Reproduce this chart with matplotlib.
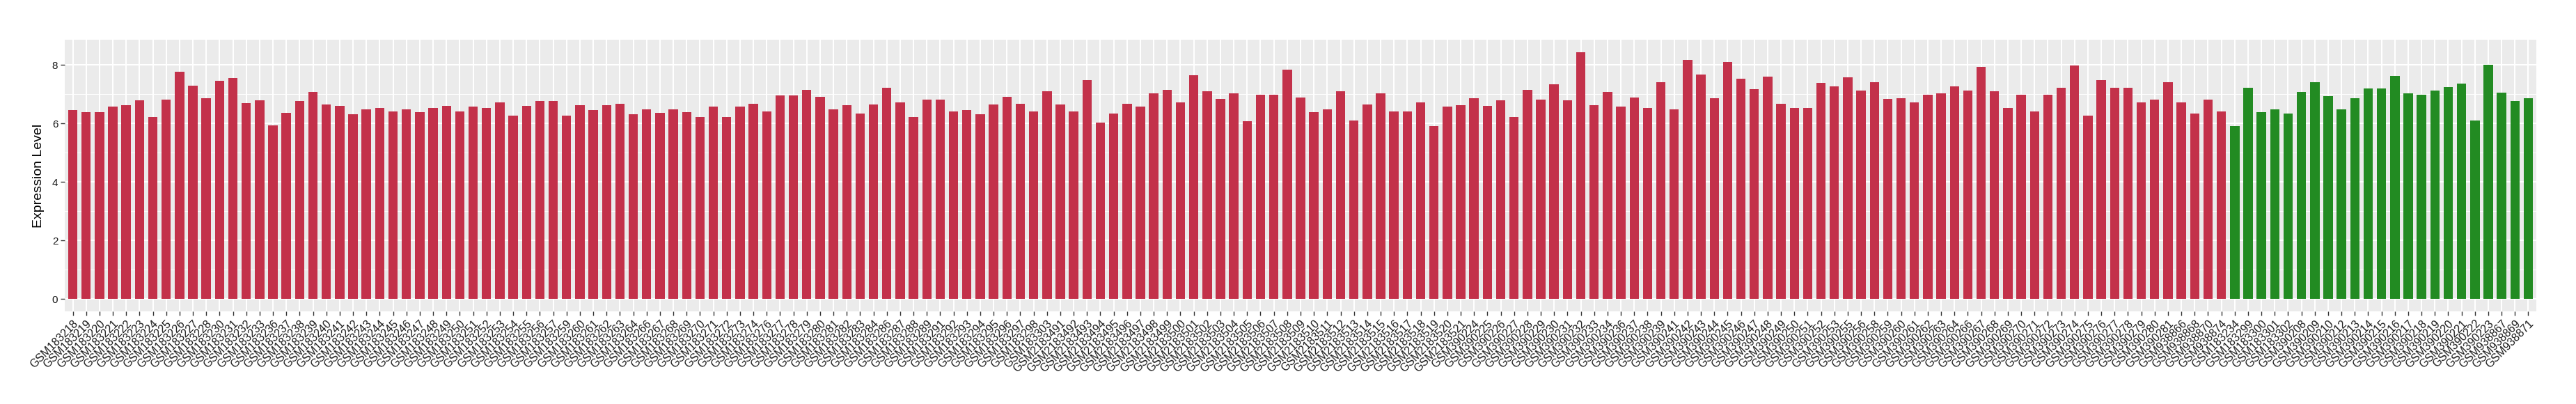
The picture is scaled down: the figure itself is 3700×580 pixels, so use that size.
import matplotlib
matplotlib.use("Agg")
import matplotlib.pyplot as plt
from matplotlib.ticker import MultipleLocator
import numpy as np

# ---- data ----
red_samples = [
    "GSM183218", "GSM183219", "GSM183220", "GSM183221", "GSM183222", "GSM183223", "GSM183224",
    "GSM183225", "GSM183226", "GSM183227", "GSM183228", "GSM183230", "GSM183231", "GSM183232",
    "GSM183233", "GSM183236", "GSM183237", "GSM183238", "GSM183239", "GSM183240", "GSM183241",
    "GSM183242", "GSM183243", "GSM183244", "GSM183245", "GSM183246", "GSM183247", "GSM183248",
    "GSM183249", "GSM183250", "GSM183251", "GSM183252", "GSM183253", "GSM183254", "GSM183255",
    "GSM183256", "GSM183257", "GSM183259", "GSM183260", "GSM183261", "GSM183262", "GSM183263",
    "GSM183264", "GSM183266", "GSM183267", "GSM183268", "GSM183269", "GSM183270", "GSM183271",
    "GSM183272", "GSM183273", "GSM183274", "GSM183276", "GSM183277", "GSM183278", "GSM183279",
    "GSM183280", "GSM183281", "GSM183282", "GSM183283", "GSM183284", "GSM183286", "GSM183287",
    "GSM183288", "GSM183289", "GSM183291", "GSM183292", "GSM183293", "GSM183294", "GSM183295",
    "GSM183296", "GSM183297", "GSM183298", "GSM183303",
    "GSM2183491", "GSM2183492", "GSM2183493", "GSM2183494", "GSM2183495", "GSM2183496",
    "GSM2183497", "GSM2183498", "GSM2183499", "GSM2183500", "GSM2183501", "GSM2183502",
    "GSM2183503", "GSM2183504", "GSM2183505", "GSM2183506", "GSM2183507", "GSM2183508",
    "GSM2183509", "GSM2183510", "GSM2183511", "GSM2183512", "GSM2183513", "GSM2183514",
    "GSM2183515", "GSM2183516", "GSM2183517", "GSM2183518", "GSM2183519", "GSM2183520",
    "GSM2183521",
    "GSM390224", "GSM390225", "GSM390226", "GSM390227", "GSM390228", "GSM390229", "GSM390230",
    "GSM390231", "GSM390232", "GSM390233", "GSM390234", "GSM390236", "GSM390237", "GSM390238",
    "GSM390239", "GSM390241", "GSM390242", "GSM390243", "GSM390244", "GSM390245", "GSM390246",
    "GSM390247", "GSM390248", "GSM390249", "GSM390250", "GSM390251", "GSM390252", "GSM390253",
    "GSM390255", "GSM390256", "GSM390258", "GSM390259", "GSM390260", "GSM390261", "GSM390262",
    "GSM390263", "GSM390264", "GSM390266", "GSM390267", "GSM390268", "GSM390269", "GSM390270",
    "GSM390271", "GSM390272", "GSM390273", "GSM390274", "GSM390275", "GSM390276", "GSM390277",
    "GSM390278", "GSM390279", "GSM390280", "GSM390281",
    "GSM938866", "GSM938868", "GSM938870", "GSM938874",
]
red_values = [
    6.46, 6.39, 6.39, 6.57, 6.63, 6.79, 6.22, 6.81, 7.77, 7.29, 6.86, 7.45, 7.55, 6.70,
    6.79, 5.93, 6.36, 6.76, 7.07, 6.64, 6.59, 6.31, 6.47, 6.52, 6.40, 6.47, 6.38, 6.52,
    6.59, 6.42, 6.57, 6.54, 6.71, 6.26, 6.59, 6.76, 6.76, 6.26, 6.62, 6.45, 6.62, 6.68,
    6.31, 6.47, 6.36, 6.47, 6.38, 6.21, 6.57, 6.23, 6.57, 6.68, 6.42, 6.95, 6.95, 7.14,
    6.90, 6.47, 6.62, 6.33, 6.66, 7.21, 6.71, 6.23, 6.81, 6.81, 6.42, 6.45, 6.31, 6.66,
    6.92, 6.68, 6.42, 7.09,
    6.66, 6.42, 7.49, 6.04, 6.33, 6.68, 6.57, 7.02, 7.14, 6.71, 7.64, 7.09, 6.83, 7.04,
    6.07, 6.97, 6.97, 7.85, 6.88, 6.38, 6.49, 7.09, 6.09, 6.64, 7.02, 6.40, 6.40, 6.71,
    5.92, 6.57, 6.62,
    6.86, 6.59, 6.78, 6.23, 7.14, 6.81, 7.33, 6.78, 8.44, 6.62, 7.07, 6.57, 6.88, 6.52,
    7.42, 6.47, 8.18, 7.66, 6.86, 8.09, 7.54, 7.16, 7.59, 6.68, 6.54, 6.52, 7.38, 7.26,
    7.57, 7.12, 7.40, 6.83, 6.86, 6.73, 6.99, 7.04, 7.26, 7.12, 7.94, 7.09, 6.54, 6.97,
    6.42, 6.99, 7.21, 7.97, 6.26, 7.47, 7.21, 7.21, 6.73, 6.81, 7.40,
    6.71, 6.33, 6.81, 6.40,
]
green_samples = [
    "GSM183234", "GSM183299", "GSM183300", "GSM183301", "GSM183302",
    "GSM390208", "GSM390209", "GSM390210", "GSM390212", "GSM390213", "GSM390214",
    "GSM390215", "GSM390216", "GSM390217", "GSM390218", "GSM390219", "GSM390220",
    "GSM390221", "GSM390222", "GSM390223",
    "GSM938867", "GSM938869", "GSM938871",
]
green_values = [
    5.92, 7.21, 6.38, 6.47, 6.33,
    7.07, 7.41, 6.93, 6.48, 6.86, 7.20, 7.20, 7.62, 7.03, 6.98, 7.13, 7.24, 7.37,
    6.10, 8.01,
    7.05, 6.77, 6.86,
]
red_color = "#C3314A"
green_color = "#228B22"
y_label = "Expression Level"

# ---- plot ----
samples = red_samples + green_samples
values = red_values + green_values
colors = [red_color] * len(red_samples) + [green_color] * len(green_samples)
n = len(samples)
x = np.arange(n)

plt.rcParams['font.family'] = ['Liberation Sans', 'DejaVu Sans']
fig = plt.figure(figsize=(37, 5.8), dpi=100)
ax = fig.add_axes([93 / 3700, 1 - 447 / 580, (3643 - 93) / 3700, (447 - 57) / 580])
ax.set_facecolor("#EBEBEB")
ax.bar(x, values, width=0.7, color=colors, zorder=3)

vmax = max(values)
ax.set_ylim(-0.05 * vmax, 1.05 * vmax)
ax.set_xlim(-0.6, n - 1 + 0.6)
ax.yaxis.set_major_locator(MultipleLocator(2))
ax.yaxis.set_minor_locator(MultipleLocator(1))
ax.grid(which="major", color="white", linewidth=1.5, zorder=0)
ax.grid(which="minor", axis="y", color="white", linewidth=0.7, zorder=0)
ax.set_axisbelow(True)
for s in ax.spines.values():
    s.set_visible(False)

ax.set_xticks(x)
ax.set_xticklabels(samples, rotation=45, ha="right", va="top", rotation_mode="anchor",
                   fontsize=11.5, color="#1A1A1A")
ax.tick_params(axis="both", which="major", length=4, width=1, color="#333333", pad=3)
ax.tick_params(axis="y", which="minor", length=0)
ax.tick_params(axis="y", labelsize=11, labelcolor="#1A1A1A")
ax.set_ylabel(y_label, fontsize=14, color="black", labelpad=8)

fig.savefig("out.png", dpi=100, facecolor="white")
